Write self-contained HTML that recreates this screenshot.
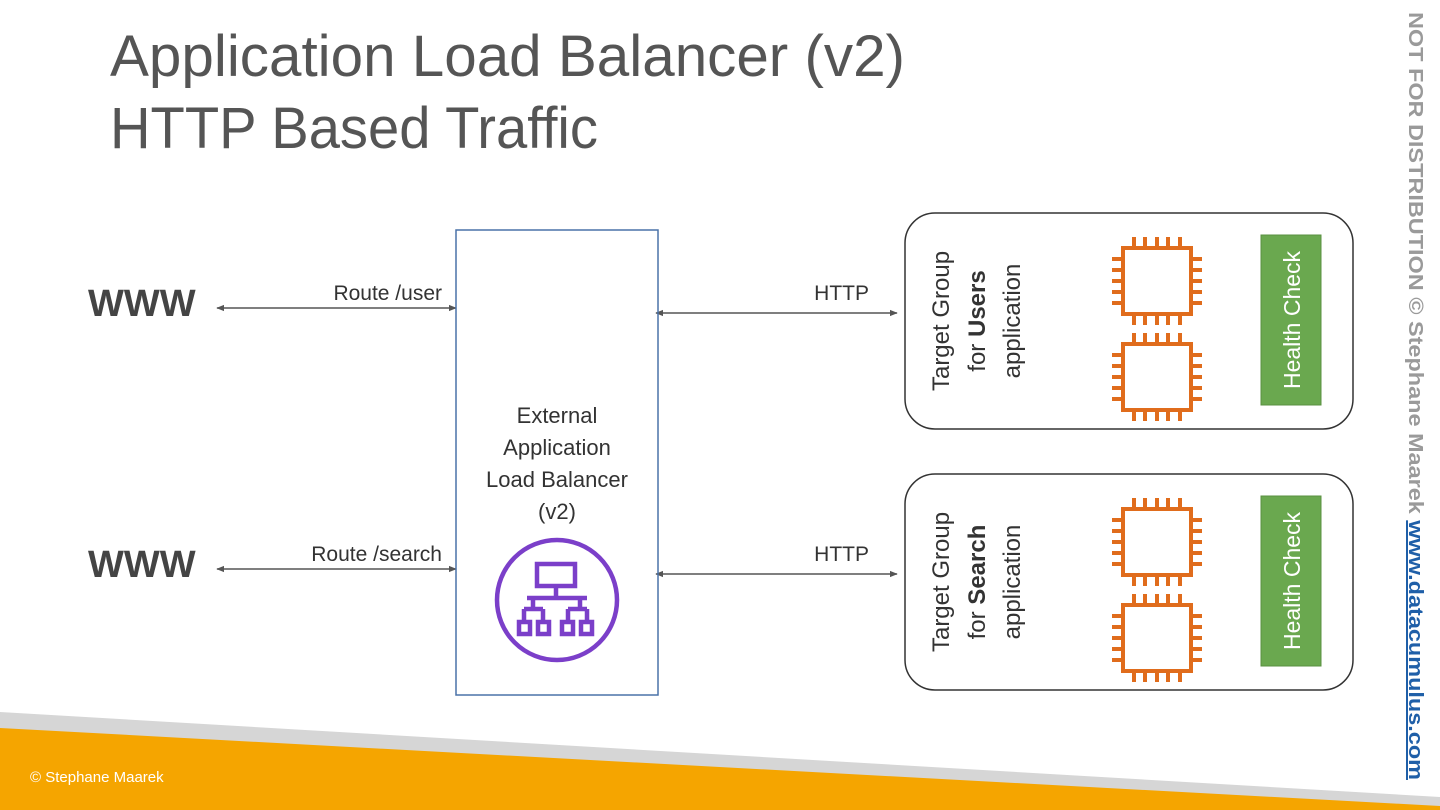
<!DOCTYPE html>
<html><head><meta charset="utf-8"><style>
html,body{margin:0;padding:0;background:#fff;}
svg{display:block;font-family:"Liberation Sans",sans-serif;}
</style></head><body>
<svg width="1440" height="810" viewBox="0 0 1440 810" xmlns="http://www.w3.org/2000/svg">
<defs>
<marker id="ah" viewBox="0 0 10 10" refX="9" refY="5" markerWidth="8" markerHeight="8" orient="auto-start-reverse" markerUnits="userSpaceOnUse">
<path d="M0,1 L10,5 L0,9 z" fill="#555"/></marker>
<g id="chip" stroke="#e06c1c" stroke-width="4" fill="none">
<rect x="0" y="0" width="68" height="66"/>
<path d="M11,0v-11M22,0v-11M34,0v-11M45,0v-11M57,0v-11 M11,66v11M22,66v11M34,66v11M45,66v11M57,66v11 M0,11h-11M0,22h-11M0,33h-11M0,44h-11M0,55h-11 M68,11h11M68,22h11M68,33h11M68,44h11M68,55h11"/>
</g>
</defs>
<text x="110" y="76" font-size="58" fill="#555" textLength="795" lengthAdjust="spacingAndGlyphs">Application Load Balancer (v2)</text>
<text x="110" y="148" font-size="58" fill="#555" textLength="488" lengthAdjust="spacingAndGlyphs">HTTP Based Traffic</text>

<polygon points="0,712 1440,797 1440,810 0,810" fill="#d6d6d6"/>
<polygon points="0,728 1440,806 1440,810 0,810" fill="#f5a500"/>
<text x="30" y="782" font-size="15" fill="#fff">© Stephane Maarek</text>

<text transform="translate(1409,12) rotate(90)" font-size="20" font-weight="bold" textLength="768" lengthAdjust="spacingAndGlyphs"><tspan fill="#9a9a9a">NOT FOR DISTRIBUTION © Stephane Maarek </tspan><tspan fill="#1f5fa8" text-decoration="underline">www.datacumulus.com</tspan></text>

<text x="88" y="316" font-size="38" font-weight="bold" fill="#444">WWW</text>
<text x="88" y="577" font-size="38" font-weight="bold" fill="#444">WWW</text>

<g stroke="#555" stroke-width="1.5" marker-start="url(#ah)" marker-end="url(#ah)">
<line x1="217" y1="308" x2="456" y2="308"/>
<line x1="217" y1="569" x2="456" y2="569"/>
<line x1="656" y1="313" x2="897" y2="313"/>
<line x1="656" y1="574" x2="897" y2="574"/>
</g>
<g font-size="21" fill="#333">
<text x="442" y="300" text-anchor="end">Route /user</text>
<text x="442" y="561" text-anchor="end">Route /search</text>
<text x="869" y="300" text-anchor="end">HTTP</text>
<text x="869" y="561" text-anchor="end">HTTP</text>
</g>

<rect x="456" y="230" width="202" height="465" fill="none" stroke="#4a72a8" stroke-width="1.5"/>
<g font-size="22" fill="#333" text-anchor="middle">
<text x="557" y="423">External</text>
<text x="557" y="455">Application</text>
<text x="557" y="487">Load Balancer</text>
<text x="557" y="519">(v2)</text>
</g>
<g stroke="#7b3fc9" fill="none" stroke-width="4.5">
<circle cx="557" cy="600" r="60"/>
<rect x="537" y="564" width="38" height="22"/>
<path d="M556,586V598 M527,598H587 M533,598V609 M580,598V609 M524,609H543 M568,609H587 M524,609V622 M543,609V622 M568,609V622 M587,609V622"/>
<rect x="519" y="622" width="11" height="12"/>
<rect x="538" y="622" width="11" height="12"/>
<rect x="562" y="622" width="11" height="12"/>
<rect x="581" y="622" width="11" height="12"/>
</g>

<g>
<rect x="905" y="213" width="448" height="216" rx="30" fill="none" stroke="#333" stroke-width="1.5"/>
<rect x="905" y="474" width="448" height="216" rx="30" fill="none" stroke="#333" stroke-width="1.5"/>
</g>
<g font-size="24" fill="#333" text-anchor="middle">
<text transform="translate(949,321) rotate(-90)">Target Group</text>
<text transform="translate(985,321) rotate(-90)">for <tspan font-weight="bold">Users</tspan></text>
<text transform="translate(1020,321) rotate(-90)">application</text>
<text transform="translate(949,582) rotate(-90)">Target Group</text>
<text transform="translate(985,582) rotate(-90)">for <tspan font-weight="bold">Search</tspan></text>
<text transform="translate(1020,582) rotate(-90)">application</text>
</g>
<use href="#chip" x="1123" y="248"/>
<use href="#chip" x="1123" y="344"/>
<use href="#chip" x="1123" y="509"/>
<use href="#chip" x="1123" y="605"/>
<rect x="1261" y="235" width="60" height="170" fill="#6aa84f" stroke="#5a9040"/>
<rect x="1261" y="496" width="60" height="170" fill="#6aa84f" stroke="#5a9040"/>
<g font-size="23" fill="#fff" text-anchor="middle">
<text transform="translate(1300,320) rotate(-90)">Health Check</text>
<text transform="translate(1300,581) rotate(-90)">Health Check</text>
</g>
</svg>
</body></html>
